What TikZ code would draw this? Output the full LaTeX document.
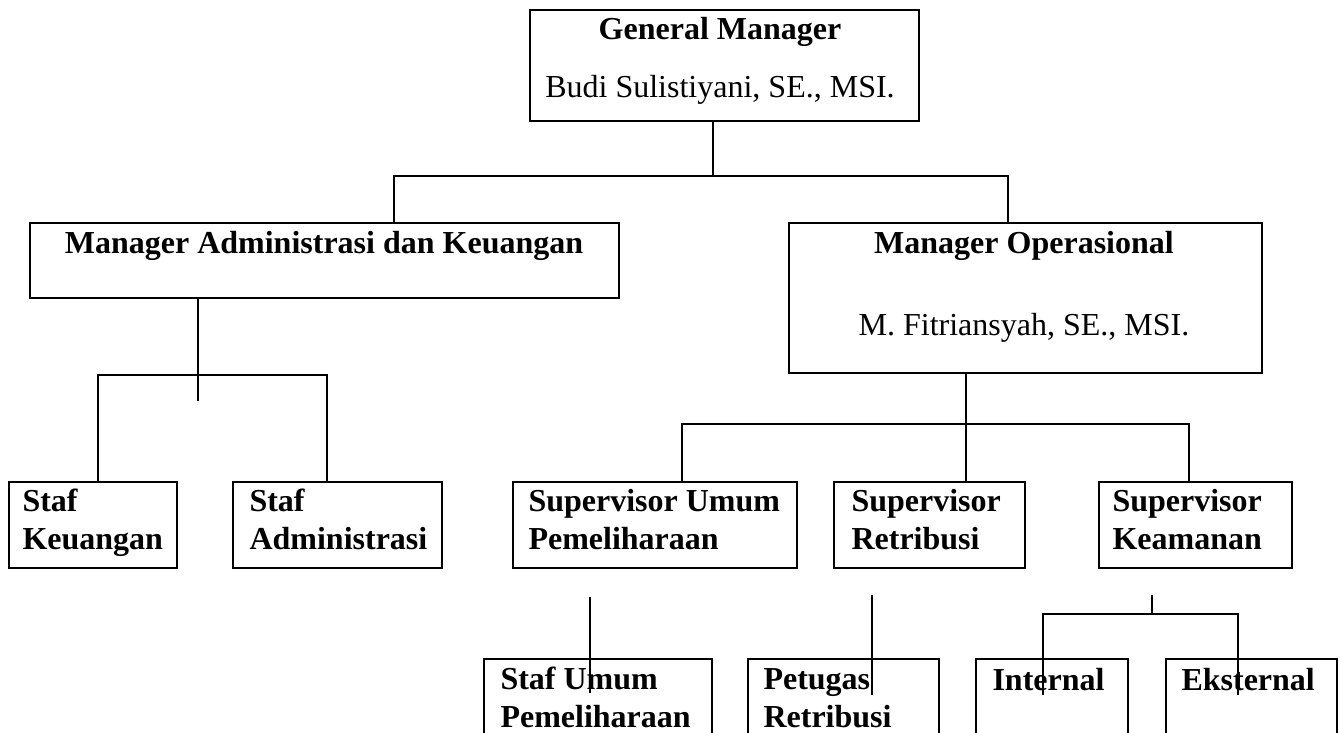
\documentclass[tikz,border=0pt]{standalone}
\usepackage{fontspec}
\setmainfont{Liberation Serif}
\usetikzlibrary{fit}

\begin{document}
\begin{tikzpicture}[x=0.375pt, y=-0.375pt, % 1 Einheit = 1 Pixel der Vorlage
  kotak/.style={draw, line width=0.9pt, inner sep=0pt},
  garis/.style={line width=0.75pt},
  judul/.style={font=\fontsize{12}{13.9}\selectfont\bfseries, inner sep=0pt, align=left},
  nama/.style={font=\fontsize{12}{13.9}\selectfont, inner sep=0pt}]

% Rahmen
\fill[white] (0,0) rectangle (1341,733);
\useasboundingbox (0,0) rectangle (1341,733);
\clip (0,0) rectangle (1341,733);

% Kaesten
\node[kotak, fit={(530,10) (919,121)}] (gm) {};
\node[kotak, fit={(30,223) (619,298)}] (mak) {};
\node[kotak, fit={(789,223) (1262,373)}] (mo) {};
\foreach \kode/\xa/\xb in {sk/9/177, sa/233/442, spu/513/797, spr/834/1025, spk/1099/1292}
  \node[kotak, fit={(\xa,482) (\xb,568)}] (\kode) {}; % Staf und Supervisor
\foreach \kode/\xa/\xb in {sup/484/712, ptr/748/939, int/976/1128, eks/1166/1337}
  \node[kotak, fit={(\xa,659) (\xb,760)}] (\kode) {}; % unterste Reihe

% Beschriftungen (bei zwei Zeilen: Grundlinie der zweiten Zeile)
\node[judul, anchor=base] (t-gm) at (720,39) {General Manager};
\node[nama, anchor=base] (n-gm) at (720,97) {Budi Sulistiyani, SE., MSI.};
\node[judul, anchor=base] (t-mak) at (324,253) {Manager Administrasi dan Keuangan};
\node[judul, anchor=base] (t-mo) at (1024,253) {Manager Operasional};
\node[nama, anchor=base] (n-mo) at (1024,335) {M. Fitriansyah, SE., MSI.};
\node[judul, anchor=base west] (t-sk) at (22,549) {Staf\\Keuangan};
\node[judul, anchor=base west] (t-sa) at (249,549) {Staf\\Administrasi};
\node[judul, anchor=base west] (t-spu) at (528,549) {Supervisor Umum\\Pemeliharaan};
\node[judul, anchor=base west] (t-spr) at (851,549) {Supervisor\\Retribusi};
\node[judul, anchor=base west] (t-spk) at (1112,549) {Supervisor\\Keamanan};
\node[judul, anchor=base west] (t-sup) at (500,727) {Staf Umum\\Pemeliharaan};
\node[judul, anchor=base west] (t-ptr) at (763,727) {Petugas\\Retribusi};
\node[judul, anchor=base west] (t-int) at (992,690) {Internal};
\node[judul, anchor=base west] (t-eks) at (1181,690) {Eksternal};

% Verbindungen
\coordinate (j1) at (713,176);
\coordinate (ki1) at (394,176);
\coordinate (ka1) at (1008,176);
\draw[garis] (gm.south -| j1) -- (j1);
\draw[garis] (mak.north -| ki1) -- (ki1) -- (ka1) -- (mo.north -| ka1);

\coordinate (j2) at (198,401);
\coordinate (ki2) at (98,375);
\coordinate (ka2) at (327,375);
\draw[garis] (mak.south -| j2) -- (j2);
\draw[garis] (sk.north -| ki2) -- (ki2) -- (ka2) -- (sa.north -| ka2);

\coordinate (j3) at (966,424);
\coordinate (ki3) at (682,424);
\coordinate (ka3) at (1189,424);
\draw[garis] (mo.south -| j3) -- (spr.north -| j3);
\draw[garis] (spu.north -| ki3) -- (ki3) -- (ka3) -- (spk.north -| ka3);

% lose Linien unten
\coordinate (a1) at (590,597);
\coordinate (a2) at (590,693);
\coordinate (b1) at (872,595);
\coordinate (b2) at (872,695);
\draw[garis] (a1) -- (a2);
\draw[garis] (b1) -- (b2);
\coordinate (k0) at (1152,595);
\coordinate (k1) at (1152,614);
\coordinate (kl) at (1043,614);
\coordinate (kr) at (1238,614);
\coordinate (kl2) at (1043,695);
\coordinate (kr2) at (1238,695);
\draw[garis] (k0) -- (k1);
\draw[garis] (kl2) -- (kl) -- (kr) -- (kr2);

\end{tikzpicture}
\end{document}
